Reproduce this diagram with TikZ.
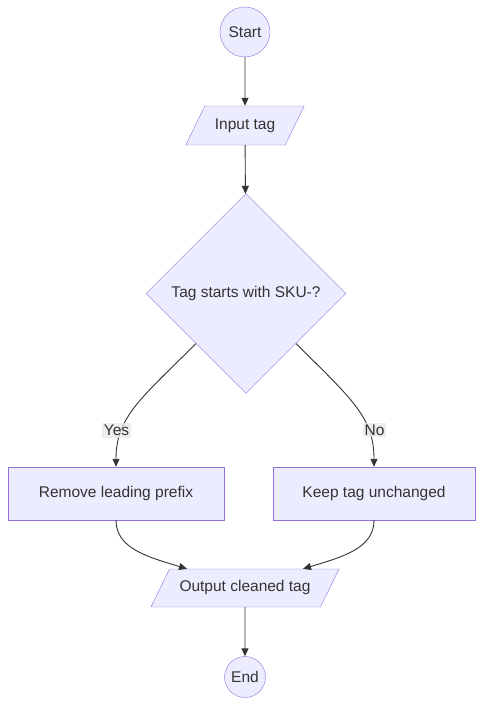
\documentclass[tikz,border=0pt]{standalone}
\usepackage{fontspec}
\setmainfont{Liberation Sans}
\usetikzlibrary{shapes.geometric,arrows.meta}
\definecolor{nodefill}{HTML}{ECECFF}
\definecolor{nodeline}{HTML}{9370DB}
\definecolor{edgeline}{HTML}{333333}
\definecolor{labelbg}{HTML}{E8E8E8}
\begin{document}
\begin{tikzpicture}[x=1pt,y=-1pt,
        every node/.style={font=\fontsize{15.5}{18}\selectfont,text=edgeline},
        terminal/.style={circle,draw=nodeline,fill=nodefill,inner sep=0pt},
        io/.style={trapezium,trapezium left angle=64,trapezium right angle=116,
            draw=nodeline,fill=nodefill,text height=11pt,text depth=4pt,inner xsep=10pt,inner ysep=12pt},
        process/.style={rectangle,draw=nodeline,fill=nodefill,minimum height=53pt,inner sep=0pt},
        decision/.style={diamond,draw=nodeline,fill=nodefill,minimum width=200pt,minimum height=200pt,inner sep=0pt},
        flow/.style={draw=edgeline,line width=0.9pt,-{Triangle[length=8pt,width=7pt]}},
        answer/.style={fill=labelbg,fill opacity=0.8,text opacity=1,inner sep=2pt}]
                \useasboundingbox (0,0) rectangle (491,717);
                %% nodes
                \node[terminal,minimum size=50pt] (start) at (245,32) {Start};
                \node[io] (in) at (245,125.5) {Input tag};
                \node[decision] (dec) at (246,293.5) {Tag starts with SKU-?};
                \node[process,minimum width=216pt] (rem) at (116,493.5) {Remove leading prefix};
                \node[process,minimum width=202pt] (keep) at (374,493.5) {Keep tag unchanged};
                \node[io,inner ysep=11.5pt] (out) at (245,588) {Output cleaned tag};
                \node[terminal,minimum size=41pt] (end) at (245,677) {End};
                %% straight edges
                \draw[flow] (start) -- (in);
                \draw[flow] (in) -- (dec);
                \draw[flow] (out) -- (end);
                %% branches
                \draw[flow] (dec.south west) .. controls +(-55,55) and +(0,-50) .. (rem.north);
                \draw[flow] (dec.south east) .. controls +(55,55) and +(0,-50) .. (keep.north);
                \draw[flow] (rem.south) .. controls +(0,28) and +(-40,-12) .. ([xshift=-58pt]out.north);
                \draw[flow] (keep.south) .. controls +(0,28) and +(40,-12) .. ([xshift=58pt]out.north);
                %% labels
                \node[answer] (yes) at (116.5,430.5) {Yes};
                \node[answer] (no) at (374.5,430) {No};
            \end{tikzpicture}
\end{document}
